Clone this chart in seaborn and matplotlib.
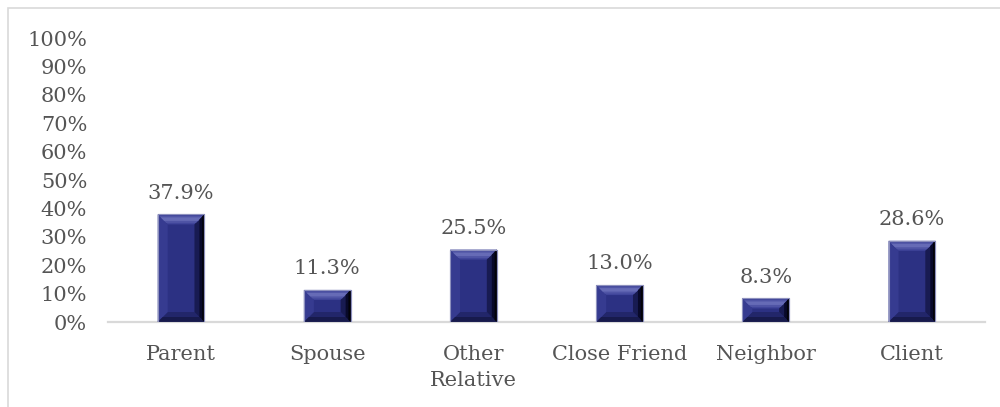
import matplotlib
matplotlib.use("Agg")
import matplotlib.pyplot as plt
from matplotlib.patches import Polygon, Rectangle
from matplotlib.ticker import PercentFormatter
import seaborn as sns
import pandas as pd

# Relationship categories and their shares (percent)
categories = ["Parent", "Spouse", "Other\nRelative", "Close Friend", "Neighbor", "Client"]
shares = [37.9, 11.3, 25.5, 13.0, 8.3, 28.6]
y_ticks = [0, 10, 20, 30, 40, 50, 60, 70, 80, 90, 100]

df = pd.DataFrame({"category": categories, "share": [s / 100 for s in shares]})

sns.set_theme(style="white")
plt.rcParams["font.family"] = ["DejaVu Serif"]

TEXT = "#555555"
FACE = "#2c3183"
FS = 15

fig = plt.figure(figsize=(10, 4.07), dpi=100)
ax = fig.add_axes([0.108, 0.2088, 0.877, 0.6978])

sns.barplot(data=df, x="category", y="share", color=FACE, saturation=1,
            width=0.32, edgecolor="#8d90bd", linewidth=0.8, ax=ax, zorder=2)

ax.set_ylim(0, 1)
ax.set_xlim(-0.5, len(categories) - 0.5)
ax.set_yticks([t / 100 for t in y_ticks])
ax.yaxis.set_major_formatter(PercentFormatter(1.0, decimals=0))
ax.set_xlabel("")
ax.set_ylabel("")
ax.tick_params(axis="both", length=0, labelsize=FS, labelcolor=TEXT)
ax.tick_params(axis="y", pad=15)
ax.tick_params(axis="x", pad=16.5)
for lab in ax.get_xticklabels():
    lab.set_linespacing(1.5)

for side in ["top", "right", "left"]:
    ax.spines[side].set_visible(False)
ax.spines["bottom"].set_color("#d9d9d9")
ax.spines["bottom"].set_linewidth(1.6)
ax.spines["bottom"].set_zorder(1)


def quad(pts, col, z=3):
    ax.add_patch(Polygon(pts, closed=True, facecolor=col, edgecolor="none", zorder=z))


# Bevelled faces drawn on each bar, sized from the bar geometry
fig.canvas.draw()
bbox = ax.get_window_extent()
px_y = 1.0 / bbox.height
px_x = len(categories) / bbox.width
for patch in ax.patches:
    x0, y0 = patch.get_x(), patch.get_y()
    w, h = patch.get_width(), patch.get_height()
    x1, y1 = x0 + w, y0 + h
    bx = 10 * px_x
    by = min(10 * px_y, h / 2.2)

    def inner(f):
        return x0 + bx * f, x1 - bx * f, y0 + by * f, y1 - by * f

    # main bevel faces
    quad([(x0, y1), (x1, y1), (x1 - bx, y1 - by), (x0 + bx, y1 - by)], "#40459a")
    quad([(x0, y0), (x1, y0), (x1 - bx, y0 + by), (x0 + bx, y0 + by)], "#22266a")
    quad([(x0, y0), (x0 + bx, y0 + by), (x0 + bx, y1 - by), (x0, y1)], "#363b90")
    quad([(x1, y0), (x1 - bx, y0 + by), (x1 - bx, y1 - by), (x1, y1)], "#181b52")

    # highlight bands across the top bevel
    a0, a1, _, t0 = inner(0.15)
    b0, b1, _, t1 = inner(0.85)
    quad([(a0, t0), (a1, t0), (b1, t1), (b0, t1)], "#4f54a5", 3.4)
    a0, a1, _, t0 = inner(0.3)
    b0, b1, _, t1 = inner(0.65)
    quad([(a0, t0), (a1, t0), (b1, t1), (b0, t1)], "#666bb6", 3.5)

    # darker outer strips along the right and bottom edges
    r0, r1, rb, rt = inner(0.5)
    quad([(x1, y0), (r1, rb), (r1, rt), (x1, y1)], "#08092a", 3.5)
    s0, s1, sb, st = inner(0.22)
    quad([(x1, y0), (s1, sb), (s1, st), (x1, y1)], "#020208", 3.6)
    quad([(x0, y0), (x1, y0), (r1, rb), (r0, rb)], "#171a4c", 3.5)

    # thin outline
    ax.add_patch(Rectangle((x0, y0), w, h, fill=False, edgecolor="#8d90bd",
                           linewidth=0.8, zorder=4))

# Value labels above bars
for i, v in enumerate(shares):
    ax.annotate(f"{v:.1f}%", xy=(i, v / 100), xytext=(0, 8.5), textcoords="offset points",
                ha="center", va="bottom", fontsize=FS, color=TEXT)

# Chart area border
fig.add_artist(Rectangle((0.0075, -0.05), 1.2, 0.9803 + 0.05, transform=fig.transFigure,
                         fill=False, edgecolor="#d9d9d9", linewidth=1.2))

fig.savefig("out.png", dpi=100, facecolor="white")
